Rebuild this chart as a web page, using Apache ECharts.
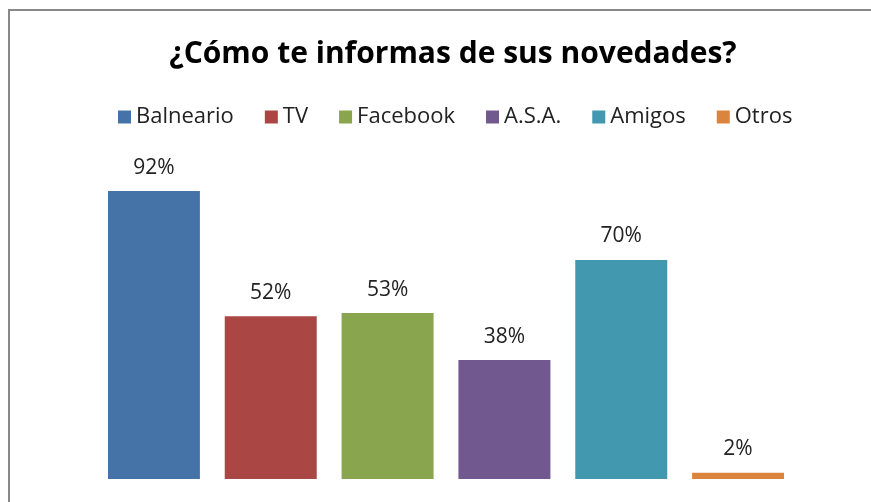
<!DOCTYPE html>
<html>
<head>
<meta charset="utf-8">
<script src="https://cdn.jsdelivr.net/npm/echarts@6/dist/echarts.min.js"></script>
<style>
    html, body { margin: 0; padding: 0; background: #fff; overflow: hidden; }
    #wrap { position: relative; width: 871px; height: 502px; overflow: hidden; }
    #chart { width: 871px; height: 502px; }
    /* marco gris del grafico, cortado por la derecha y abajo */
    .linea { position: absolute; background: #888; pointer-events: none; }
    #lineaSup { left: 8px; top: 9px; width: 863px; height: 2px; }
    #lineaIzq { left: 8px; top: 9px; width: 2px; height: 493px; }
</style>
</head>
<body>
<div id="wrap">
    <div id="chart"></div>
    <div class="linea" id="lineaSup"></div>
    <div class="linea" id="lineaIzq"></div>
</div>
<script>
// fuentes de informacion y porcentajes
var fuentes = ['Balneario', 'TV', 'Facebook', 'A.S.A.', 'Amigos', 'Otros'];
var porcentajes = [92, 52, 53, 38, 70, 2];
var colores = ['#4572A7', '#AA4643', '#89A54E', '#71588F', '#4198AF', '#DB843D'];

var fontFam = '"Open Sans", "Noto Sans", sans-serif';

var series = fuentes.map(function (nombre, i) {
    return {
        name: nombre,
        type: 'bar',
        barWidth: 92,
        barGap: '27%',
        itemStyle: { color: colores[i] },
        label: {
            show: true,
            position: 'top',
            distance: 13,
            formatter: '{c}%',
            color: '#222',
            fontSize: 21,
            fontFamily: fontFam
        },
        data: [porcentajes[i]]
    };
});

var myChart = echarts.init(document.getElementById('chart'));
myChart.setOption({
    animation: false,
    title: {
        text: '¿Cómo te informas de sus novedades?',
        left: 448,
        textAlign: 'center',
        top: 34,
        textStyle: {
            fontFamily: fontFam,
            fontWeight: 'bold',
            fontSize: 30,
            color: '#000'
        }
    },
    legend: {
        data: fuentes,
        left: 113,
        top: 101,
        icon: 'rect',
        itemWidth: 13,
        itemHeight: 13,
        itemGap: 31,
        textStyle: {
            fontFamily: fontFam,
            fontSize: 22,
            color: '#222'
        }
    },
    grid: { left: 108, right: 87, top: 166, bottom: 23 },
    xAxis: {
        type: 'category',
        data: [''],
        show: false
    },
    yAxis: {
        type: 'value',
        min: 0,
        max: 100,
        show: false
    },
    series: series
});
</script>
</body>
</html>
